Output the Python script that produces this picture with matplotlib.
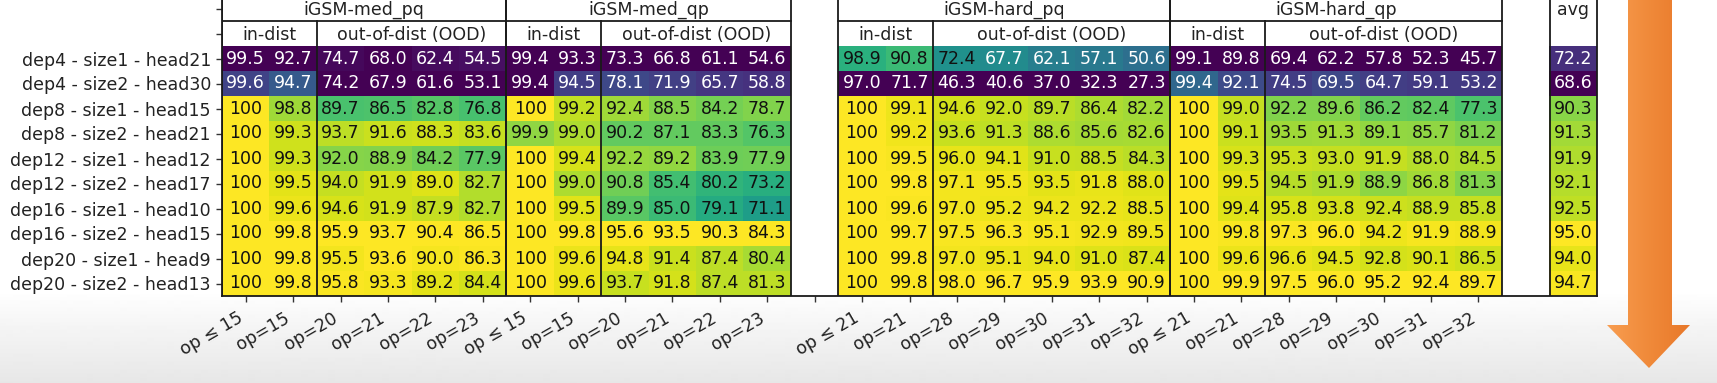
import numpy as np
import matplotlib
matplotlib.use("Agg")
import matplotlib.pyplot as plt
from matplotlib.colors import Normalize, LinearSegmentedColormap
from matplotlib.patches import Polygon

plt.rcParams['font.family'] = ['DejaVu Sans']

# ---------------- data ----------------
row_labels = ["dep4 - size1 - head21", "dep4 - size2 - head30",
              "dep8 - size1 - head15", "dep8 - size2 - head21",
              "dep12 - size1 - head12", "dep12 - size2 - head17",
              "dep16 - size1 - head10", "dep16 - size2 - head15",
              "dep20 - size1 - head9", "dep20 - size2 - head13"]

med_ops = ["op ≤ 15", "op=15", "op=20", "op=21", "op=22", "op=23"]
hard_ops = ["op ≤ 21", "op=21", "op=28", "op=29", "op=30", "op=31", "op=32"]

group_titles = ["iGSM-med_pq", "iGSM-med_qp", "iGSM-hard_pq", "iGSM-hard_qp"]

med_pq = [
    [99.5, 92.7, 74.7, 68.0, 62.4, 54.5],
    [99.6, 94.7, 74.2, 67.9, 61.6, 53.1],
    [100, 98.8, 89.7, 86.5, 82.8, 76.8],
    [100, 99.3, 93.7, 91.6, 88.3, 83.6],
    [100, 99.3, 92.0, 88.9, 84.2, 77.9],
    [100, 99.5, 94.0, 91.9, 89.0, 82.7],
    [100, 99.6, 94.6, 91.9, 87.9, 82.7],
    [100, 99.8, 95.9, 93.7, 90.4, 86.5],
    [100, 99.8, 95.5, 93.6, 90.0, 86.3],
    [100, 99.8, 95.8, 93.3, 89.2, 84.4],
]
med_qp = [
    [99.4, 93.3, 73.3, 66.8, 61.1, 54.6],
    [99.4, 94.5, 78.1, 71.9, 65.7, 58.8],
    [100, 99.2, 92.4, 88.5, 84.2, 78.7],
    [99.9, 99.0, 90.2, 87.1, 83.3, 76.3],
    [100, 99.4, 92.2, 89.2, 83.9, 77.9],
    [100, 99.0, 90.8, 85.4, 80.2, 73.2],
    [100, 99.5, 89.9, 85.0, 79.1, 71.1],
    [100, 99.8, 95.6, 93.5, 90.3, 84.3],
    [100, 99.6, 94.8, 91.4, 87.4, 80.4],
    [100, 99.6, 93.7, 91.8, 87.4, 81.3],
]
hard_pq = [
    [98.9, 90.8, 72.4, 67.7, 62.1, 57.1, 50.6],
    [97.0, 71.7, 46.3, 40.6, 37.0, 32.3, 27.3],
    [100, 99.1, 94.6, 92.0, 89.7, 86.4, 82.2],
    [100, 99.2, 93.6, 91.3, 88.6, 85.6, 82.6],
    [100, 99.5, 96.0, 94.1, 91.0, 88.5, 84.3],
    [100, 99.8, 97.1, 95.5, 93.5, 91.8, 88.0],
    [100, 99.6, 97.0, 95.2, 94.2, 92.2, 88.5],
    [100, 99.7, 97.5, 96.3, 95.1, 92.9, 89.5],
    [100, 99.8, 97.0, 95.1, 94.0, 91.0, 87.4],
    [100, 99.8, 98.0, 96.7, 95.9, 93.9, 90.9],
]
hard_qp = [
    [99.1, 89.8, 69.4, 62.2, 57.8, 52.3, 45.7],
    [99.4, 92.1, 74.5, 69.5, 64.7, 59.1, 53.2],
    [100, 99.0, 92.2, 89.6, 86.2, 82.4, 77.3],
    [100, 99.1, 93.5, 91.3, 89.1, 85.7, 81.2],
    [100, 99.3, 95.3, 93.0, 91.9, 88.0, 84.5],
    [100, 99.5, 94.5, 91.9, 88.9, 86.8, 81.3],
    [100, 99.4, 95.8, 93.8, 92.4, 88.9, 85.8],
    [100, 99.8, 97.3, 96.0, 94.2, 91.9, 88.9],
    [100, 99.6, 96.6, 94.5, 92.8, 90.1, 86.5],
    [100, 99.9, 97.5, 96.0, 95.2, 92.4, 89.7],
]
avg = [72.2, 68.6, 90.3, 91.3, 91.9, 92.1, 92.5, 95.0, 94.0, 94.7]

# ---------------- layout ----------------
W, H = 1717, 383
fig = plt.figure(figsize=(W / 100, H / 100), dpi=100)

# background (slide gradient) + decorative arrow
bg = fig.add_axes([0, 0, 1, 1], zorder=0)
bg.axis('off')
ys = np.arange(H)
grad = np.ones(H)
m = ys > 292
grad[m] = 1.0 - 0.095 * ((ys[m] - 292) / (H - 292)) ** 0.9
bg.imshow(grad[:, None], extent=[0, 1, 0, 1], aspect='auto', cmap='gray',
          vmin=0, vmax=1, interpolation='bilinear')
sx0, sx1 = 1628 / W, 1672 / W
hx0, hx1, tx = 1607 / W, 1690 / W, 1649 / W
ybase, ytip = 1 - 325 / H, 1 - 368 / H
pts = [(sx0, 1.05), (sx1, 1.05), (sx1, ybase), (hx1, ybase), (tx, ytip),
       (hx0, ybase), (sx0, ybase)]
poly = Polygon(pts, closed=True, facecolor='none', edgecolor='none',
               transform=bg.transAxes)
bg.add_patch(poly)
acm = LinearSegmentedColormap.from_list('arr', ['#f89d50', '#f08a3a', '#e8782a'])
aim = bg.imshow(np.linspace(0, 1, 64)[None, :], extent=[hx0, hx1, ytip, 1.05],
                aspect='auto', cmap=acm, interpolation='bilinear')
aim.set_clip_path(poly)
bg.set_xlim(0, 1)
bg.set_ylim(0, 1)

ax = fig.add_axes([222 / W, (H - 296) / H, 1375 / W, 300 / H], zorder=1)
ax.set_facecolor('white')

blocks = [(0, med_pq), (6, med_qp), (13, hard_pq), (20, hard_qp), (28, [[v] for v in avg])]
ncols = 29
nrows = 12
rgba = np.ones((nrows, ncols, 4))
cmap = plt.get_cmap('viridis')
FS = 12.5

for c0, blk in blocks:
    arr = np.array(blk, dtype=float)
    for j in range(arr.shape[1]):
        col = arr[:, j]
        norm = Normalize(vmin=col.min(), vmax=col.max())
        nv = norm(col)
        rgba[2:, c0 + j, :] = cmap(nv)
        for i, v in enumerate(col):
            s = "100" if v >= 99.95 else f"{v:.1f}"
            tc = 'white' if nv[i] < 0.5 else '#111111'
            ax.text(c0 + j, i + 2, s, ha='center', va='center', fontsize=FS,
                    color=tc)

ax.imshow(rgba, aspect='auto', extent=[-0.5, ncols - 0.5, nrows - 0.5, -0.5],
          interpolation='nearest')
ax.set_xlim(-0.5, ncols - 0.5)
ax.set_ylim(nrows - 0.5, -0.5)

# header texts and lines
LC = '#1a1a1a'
LW = 1.3
groups = [(0, 6, 2, group_titles[0]), (6, 6, 2, group_titles[1]),
          (13, 7, 2, group_titles[2]), (20, 7, 2, group_titles[3])]
for c0, n, nin, title in groups:
    ax.text(c0 + (n - 1) / 2, 0.06, title, ha='center', va='center', fontsize=FS, color='#222222')
    ax.text(c0 + (nin - 1) / 2, 1.05, "in-dist", ha='center', va='center', fontsize=FS, color='#222222')
    ax.text(c0 + nin + (n - nin - 1) / 2, 1.05, "out-of-dist (OOD)", ha='center', va='center',
            fontsize=FS, color='#222222')
    ax.plot([c0 - 0.5, c0 - 0.5], [-0.5, nrows - 0.5], color=LC, lw=LW)
    ax.plot([c0 + n - 0.5, c0 + n - 0.5], [-0.5, nrows - 0.5], color=LC, lw=LW)
    ax.plot([c0 + nin - 0.5, c0 + nin - 0.5], [0.5, nrows - 0.5], color=LC, lw=LW)
    ax.plot([c0 - 0.5, c0 + n - 0.5], [0.5, 0.5], color=LC, lw=LW)
ax.text(28, 0.06, "avg", ha='center', va='center', fontsize=FS, color='#222222')
ax.plot([27.5, 27.5], [-0.5, nrows - 0.5], color=LC, lw=LW)

for sp in ax.spines.values():
    sp.set_color(LC)
    sp.set_linewidth(LW)

ax.set_yticks(range(nrows))
ax.set_yticklabels(["", ""] + row_labels, fontsize=FS, color='#222222')
xlabels = med_ops + med_ops + [""] + hard_ops + hard_ops
ax.set_xticks(range(len(xlabels)))
ax.set_xticklabels(xlabels, rotation=30, ha='right', fontsize=FS, color='#222222')
ax.tick_params(axis='both', length=4.5, width=1.0, color='#333333')
ax.tick_params(axis='x', pad=5)

fig.savefig("out.png", dpi=100)
